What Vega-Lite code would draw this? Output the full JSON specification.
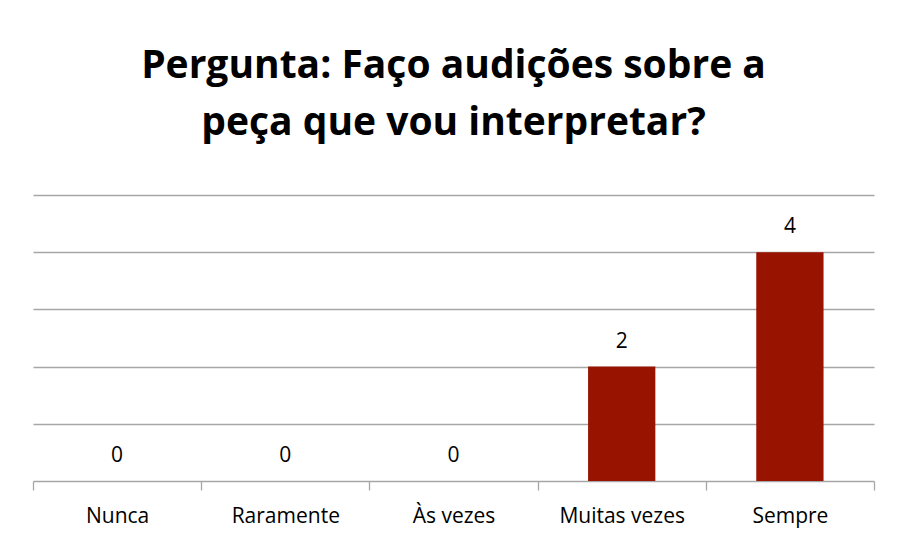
{
  "$schema": "https://vega.github.io/schema/vega-lite/v6.json",
  "width": 841,
  "height": 286,
  "autosize": {"type": "none"},
  "padding": {"left": 33, "top": 195, "right": 33, "bottom": 54},
  "background": "white",
  "title": {
    "text": ["Pergunta: Faço audições sobre a", "peça que vou interpretar?"],
    "font": "Open Sans",
    "fontSize": 39,
    "fontWeight": "bold",
    "color": "#000000",
    "anchor": "middle",
    "frame": "group",
    "lineHeight": 57,
    "baseline": "alphabetic",
    "offset": 21
  },
  "data": {
    "values": [
      {"categoria": "Nunca", "valor": 0},
      {"categoria": "Raramente", "valor": 0},
      {"categoria": "Às vezes", "valor": 0},
      {"categoria": "Muitas vezes", "valor": 2},
      {"categoria": "Sempre", "valor": 4}
    ]
  },
  "encoding": {
    "x": {
      "field": "categoria",
      "type": "nominal",
      "sort": null,
      "scale": {"paddingInner": 0, "paddingOuter": 0},
      "axis": {
        "title": null,
        "labelAngle": 0,
        "labelFont": "Open Sans",
        "labelFontSize": 21,
        "labelColor": "#000000",
        "labelPadding": 15,
        "tickBand": "extent",
        "tickSize": 9,
        "tickColor": "#a6a6a6",
        "domainColor": "#a6a6a6",
        "domainWidth": 1.3,
        "tickWidth": 1.3,
        "grid": false
      }
    },
    "y": {
      "field": "valor",
      "type": "quantitative",
      "scale": {"domain": [0, 5], "nice": false},
      "axis": {
        "title": null,
        "labels": false,
        "ticks": false,
        "domain": false,
        "values": [1, 2, 3, 4, 5],
        "grid": true,
        "gridColor": "#a6a6a6",
        "gridWidth": 1.3
      }
    }
  },
  "layer": [
    {
      "mark": {"type": "bar", "color": "#991400", "width": {"band": 0.4}}
    },
    {
      "mark": {"type": "text", "font": "Open Sans", "fontSize": 21, "color": "#000000", "baseline": "alphabetic", "dy": -19},
      "encoding": {"text": {"field": "valor", "type": "quantitative"}}
    }
  ],
  "config": {"view": {"stroke": null}}
}
